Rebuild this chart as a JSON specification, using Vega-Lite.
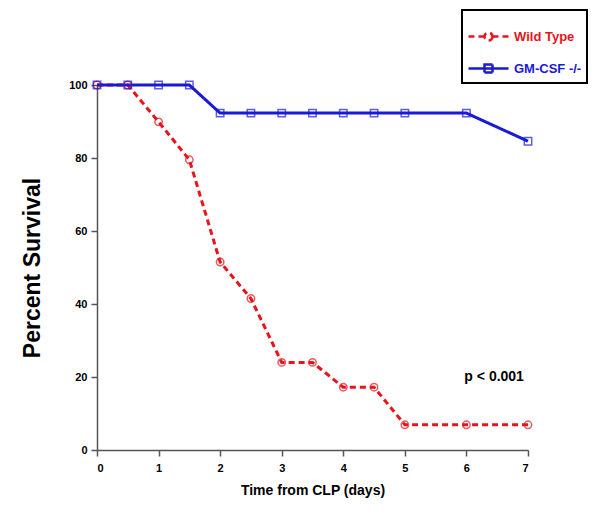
{
  "$schema": "https://vega.github.io/schema/vega-lite/v6.json",
  "width": 431,
  "height": 365,
  "autosize": "none",
  "padding": {"left": 97, "top": 85, "right": 73, "bottom": 63},
  "background": "white",
  "config": {
    "view": {"stroke": null},
    "font": "Liberation Sans",
    "axis": {
      "grid": false,
      "ticks": true,
      "domainColor": "#555",
      "domainWidth": 1.5,
      "tickColor": "#555",
      "tickWidth": 1.5,
      "labelFont": "Liberation Sans",
      "labelFontWeight": "bold",
      "labelFontSize": 11,
      "labelColor": "black",
      "titleFont": "Liberation Sans",
      "titleFontWeight": "bold",
      "titleColor": "black"
    }
  },
  "data": {
    "values": [
      {"day": 0, "pct": 100, "group": "Wild Type"},
      {"day": 0.5, "pct": 100, "group": "Wild Type"},
      {"day": 1, "pct": 89.9, "group": "Wild Type"},
      {"day": 1.5, "pct": 79.5, "group": "Wild Type"},
      {"day": 2, "pct": 51.5, "group": "Wild Type"},
      {"day": 2.5, "pct": 41.5, "group": "Wild Type"},
      {"day": 3, "pct": 24, "group": "Wild Type"},
      {"day": 3.5, "pct": 24, "group": "Wild Type"},
      {"day": 4, "pct": 17.2, "group": "Wild Type"},
      {"day": 4.5, "pct": 17.2, "group": "Wild Type"},
      {"day": 5, "pct": 6.9, "group": "Wild Type"},
      {"day": 6, "pct": 6.9, "group": "Wild Type"},
      {"day": 7, "pct": 6.9, "group": "Wild Type"},
      {"day": 0, "pct": 100, "group": "GM-CSF -/-"},
      {"day": 0.5, "pct": 100, "group": "GM-CSF -/-"},
      {"day": 1, "pct": 100, "group": "GM-CSF -/-"},
      {"day": 1.5, "pct": 100, "group": "GM-CSF -/-"},
      {"day": 2, "pct": 92.3, "group": "GM-CSF -/-"},
      {"day": 2.5, "pct": 92.3, "group": "GM-CSF -/-"},
      {"day": 3, "pct": 92.3, "group": "GM-CSF -/-"},
      {"day": 3.5, "pct": 92.3, "group": "GM-CSF -/-"},
      {"day": 4, "pct": 92.3, "group": "GM-CSF -/-"},
      {"day": 4.5, "pct": 92.3, "group": "GM-CSF -/-"},
      {"day": 5, "pct": 92.3, "group": "GM-CSF -/-"},
      {"day": 6, "pct": 92.3, "group": "GM-CSF -/-"},
      {"day": 7, "pct": 84.6, "group": "GM-CSF -/-"}
    ]
  },
  "encoding": {
    "x": {
      "field": "day", "type": "quantitative",
      "scale": {"domain": [0, 7], "nice": false, "zero": false},
      "axis": {
        "title": "Time from CLP (days)",
        "titleFontSize": 14,
        "titlePadding": 10,
        "values": [0, 0.5, 1, 1.5, 2, 2.5, 3, 3.5, 4, 4.5, 5, 5.5, 6, 6.5, 7],
        "labelExpr": "datum.value % 1 ? '' : datum.label",
        "format": "d",
        "ticks": true,
        "tickSize": 6,
        "labelPadding": 6,
        "encode": {
          "ticks": {"update": {"y2": {"signal": "datum.value % 1 ? -4 : -7"}}}
        }
      }
    },
    "y": {
      "field": "pct", "type": "quantitative",
      "scale": {"domain": [0, 100], "nice": false},
      "axis": {
        "title": "Percent Survival",
        "titleFontSize": 23,
        "titlePadding": 24,
        "values": [0, 20, 40, 60, 80, 100],
        "ticks": true,
        "tickSize": 6,
        "labelPadding": 4,
        "encode": {
          "ticks": {"update": {"x2": {"value": 7}}}
        }
      }
    },
    "color": {
      "field": "group", "type": "nominal",
      "scale": {"domain": ["Wild Type", "GM-CSF -/-"], "range": ["#e8141a", "#1a1ad6"]},
      "legend": {
        "title": null,
        "orient": "none",
        "legendX": 365,
        "legendY": -75,
        "strokeColor": "black",
        "padding": 5,
        "labelFontSize": 13,
        "labelFontWeight": "bold",
        "labelOffset": 4,
        "symbolSize": 1600,
        "symbolStrokeWidth": 2.5,
        "rowPadding": 1,
        "encode": {
          "legend": {"update": {"strokeWidth": {"value": 2}}},
          "labels": {"update": {"fill": {"signal": "datum.label == 'Wild Type' ? '#e8141a' : '#1a1ad6'"}}},
          "symbols": {"update": {
            "shape": {"signal": "datum.label == 'Wild Type' ? 'M-1,0H-0.2M0.2,0A0.2,0.2,0,1,1,-0.2,0A0.2,0.2,0,1,1,0.2,0M0.2,0H1' : 'M-1,0H1M-0.2,-0.2H0.2V0.2H-0.2Z'"},
            "size": {"value": 1600},
            "stroke": {"signal": "datum.label == 'Wild Type' ? '#e8141a' : '#1a1ad6'"},
            "strokeDash": {"signal": "datum.label == 'Wild Type' ? [5, 3] : [1, 0]"},
            "fill": {"value": "transparent"}
          }}
        }
      }
    }
  },
  "layer": [
    {
      "mark": {"type": "line", "strokeWidth": 3},
      "encoding": {
        "strokeDash": {
          "field": "group", "type": "nominal",
          "scale": {"domain": ["Wild Type", "GM-CSF -/-"], "range": [[6, 4], [1, 0]]},
          "legend": null
        }
      }
    },
    {
      "transform": [{"filter": "datum.group == 'Wild Type'"}],
      "mark": {"type": "point", "shape": "circle", "filled": false, "size": 55, "strokeWidth": 1.5, "clip": false}
    },
    {
      "transform": [{"filter": "datum.group == 'GM-CSF -/-'"}],
      "mark": {"type": "point", "shape": "square", "filled": false, "size": 55, "strokeWidth": 1.5, "clip": false}
    },
    {
      "data": {"values": [{"day": 6.45, "pct": 20, "label": "p < 0.001"}]},
      "mark": {"type": "text", "fontWeight": "bold", "fontSize": 14},
      "encoding": {
        "text": {"field": "label"},
        "color": {"value": "black"}
      }
    }
  ]
}
